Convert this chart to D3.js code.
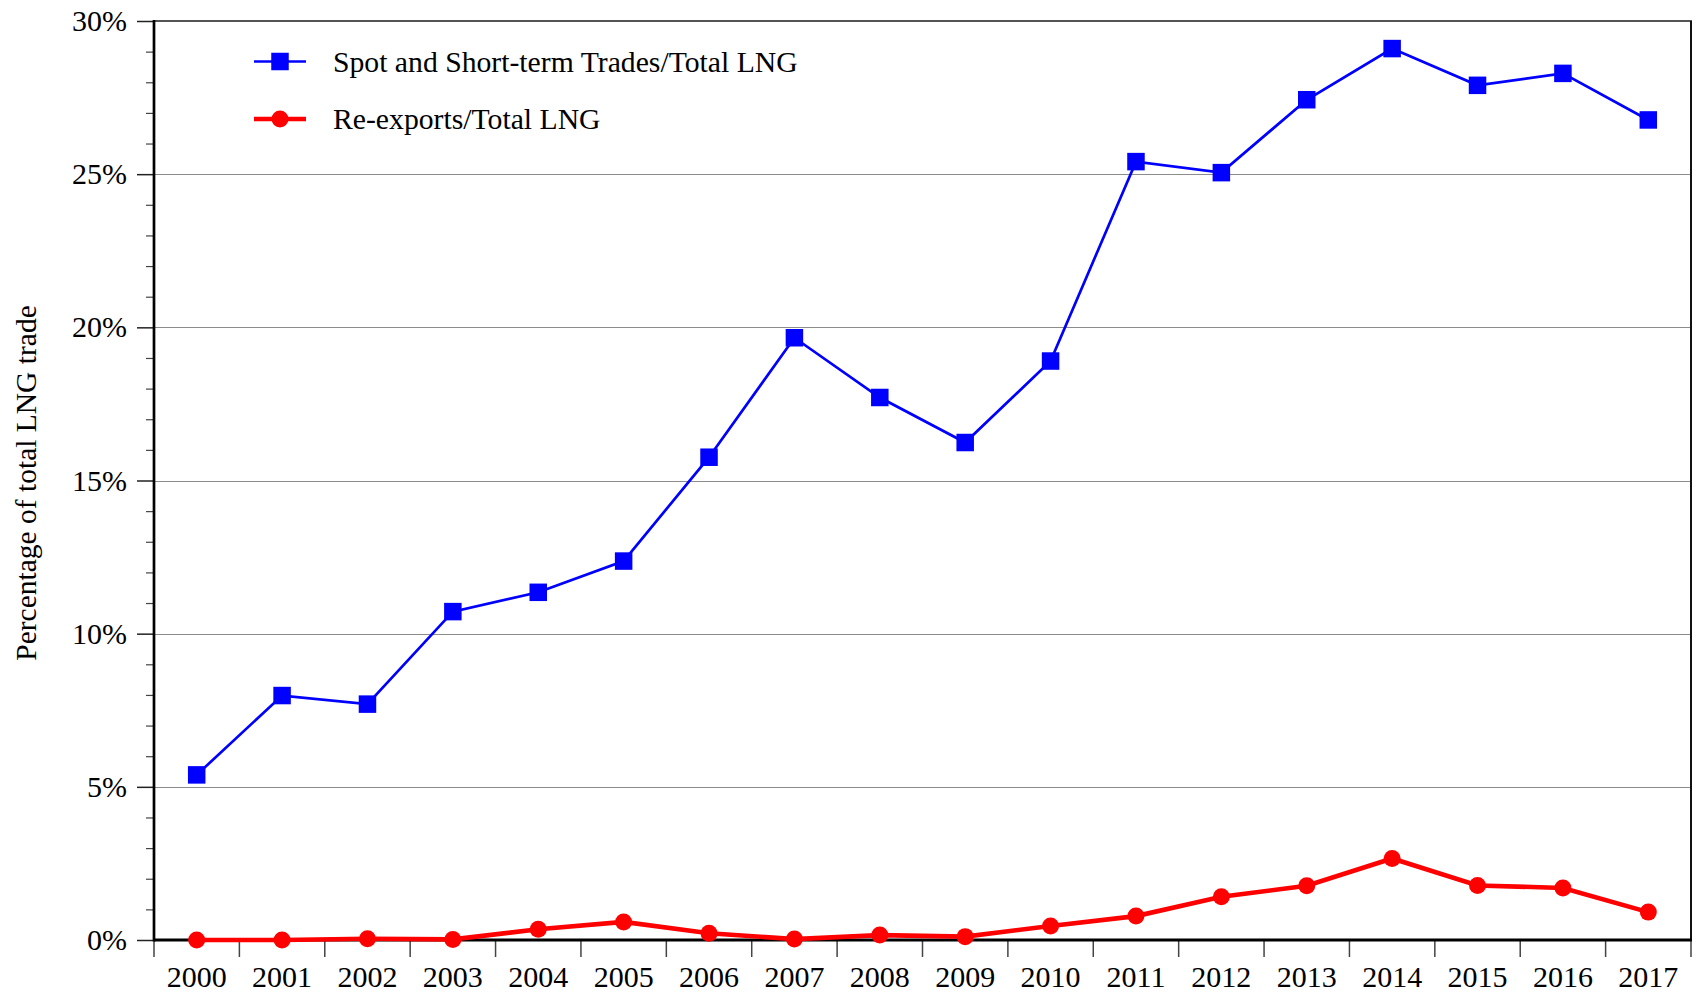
<!DOCTYPE html>
<html>
<head>
<meta charset="utf-8">
<script src="https://cdn.jsdelivr.net/npm/d3@7"></script>
<style>
  html, body { margin: 0; padding: 0; background: #fff; }
  svg { display: block; font-family: "Liberation Serif", "Times New Roman", serif; }
</style>
</head>
<body>
<svg id="chart" width="1696" height="996"></svg>
<script>
const years = ["2000","2001","2002","2003","2004","2005","2006","2007","2008","2009","2010","2011","2012","2013","2014","2015","2016","2017"];
const spotShortTerm = [5.39, 7.98, 7.70, 10.72, 11.35, 12.37, 15.76, 19.66, 17.71, 16.24, 18.90, 25.41, 25.05, 27.43, 29.10, 27.90, 28.29, 26.77];
const reExports = [0.0, 0.0, 0.04, 0.02, 0.35, 0.59, 0.22, 0.03, 0.16, 0.11, 0.46, 0.78, 1.41, 1.77, 2.66, 1.78, 1.70, 0.91];
const yTicks = [0, 5, 10, 15, 20, 25, 30];
const yMinorTicks = [1,2,3,4,6,7,8,9,11,12,13,14,16,17,18,19,21,22,23,24,26,27,28,29];
const seriesNames = ["Spot and Short-term Trades/Total LNG", "Re-exports/Total LNG"];
const yAxisTitle = "Percentage of total LNG trade";

const svg = d3.select("#chart");
const L = 154, R = 1691, T = 21, B = 940;

const x = d3.scaleBand().domain(years).range([L, R]).padding(0);
const y = d3.scaleLinear().domain([0, 30]).range([B, T]);
const cx = d => x(d) + x.bandwidth() / 2;

// gridlines
svg.append("g").selectAll("line").data(yTicks.filter(v => v > 0 && v < 30)).join("line")
  .attr("x1", L).attr("x2", R)
  .attr("y1", d => Math.round(y(d)) + 0.5).attr("y2", d => Math.round(y(d)) + 0.5)
  .attr("stroke", "#8c8c8c").attr("stroke-width", 1.2);

// top and right borders
svg.append("line").attr("x1", L).attr("x2", R + 1).attr("y1", y(30)).attr("y2", y(30))
  .attr("stroke", "#555").attr("stroke-width", 2.2);
svg.append("line").attr("x1", R).attr("x2", R).attr("y1", y(30)).attr("y2", y(0))
  .attr("stroke", "#111").attr("stroke-width", 2);

// y minor ticks
const yMinor = svg.append("g").attr("transform", `translate(${L},0)`)
  .call(d3.axisLeft(y).tickValues(yMinorTicks).tickSize(8).tickFormat(""));
yMinor.select(".domain").remove();
yMinor.selectAll(".tick line").attr("stroke", "#444").attr("stroke-width", 1.2);

// y major axis
const yAx = svg.append("g").attr("transform", `translate(${L},0)`)
  .call(d3.axisLeft(y).tickValues(yTicks).tickSize(17).tickPadding(10).tickFormat(d => d + "%"));
yAx.select(".domain").remove();
yAx.selectAll(".tick line").attr("stroke", "#222").attr("stroke-width", 1.5);
yAx.selectAll(".tick text").attr("font-size", 30).attr("fill", "#000")
  .style("font-family", '"Liberation Serif", "Times New Roman", serif');

// x tick marks at band boundaries
const edges = years.map(d => x(d)).concat([x.range()[1]]);
svg.append("g").selectAll("line").data(edges).join("line")
  .attr("x1", d => d).attr("x2", d => d)
  .attr("y1", B).attr("y2", B + 17)
  .attr("stroke", "#444").attr("stroke-width", 1.5);

// x labels
const xAx = svg.append("g").attr("transform", `translate(0,${B})`)
  .call(d3.axisBottom(x).tickSize(0).tickPadding(26));
xAx.select(".domain").remove();
xAx.selectAll(".tick text").attr("font-size", 30).attr("fill", "#000")
  .style("font-family", '"Liberation Serif", "Times New Roman", serif');

// left and bottom axis lines
svg.append("line").attr("x1", L).attr("x2", L).attr("y1", T - 1).attr("y2", B + 1.5)
  .attr("stroke", "#000").attr("stroke-width", 2.7);
svg.append("line").attr("x1", L).attr("x2", R + 1).attr("y1", B).attr("y2", B)
  .attr("stroke", "#000").attr("stroke-width", 3);

// y axis title
svg.append("text")
  .attr("transform", `translate(36,483) rotate(-90)`)
  .attr("text-anchor", "middle")
  .attr("font-size", 29.5)
  .text(yAxisTitle);

// series: blue
const lineGen = d3.line().x((d, i) => cx(years[i])).y(d => y(d));
svg.append("path").datum(spotShortTerm)
  .attr("d", lineGen).attr("fill", "none").attr("stroke", "#0000ff").attr("stroke-width", 2.7);
const sq = 17.5;
svg.append("g").selectAll("rect").data(spotShortTerm).join("rect")
  .attr("x", (d, i) => cx(years[i]) - sq / 2).attr("y", d => y(d) - sq / 2)
  .attr("width", sq).attr("height", sq).attr("fill", "#0000ff");

// series: red
svg.append("path").datum(reExports)
  .attr("d", lineGen).attr("fill", "none").attr("stroke", "#ff0000").attr("stroke-width", 4.6);
svg.append("g").selectAll("circle").data(reExports).join("circle")
  .attr("cx", (d, i) => cx(years[i])).attr("cy", d => y(d))
  .attr("r", 8.5).attr("fill", "#ff0000");

// legend
const lg = svg.append("g");
const legY = [61.5, 119];
const legX1 = 254, legX2 = 306, legC = 280;
lg.append("line").attr("x1", legX1).attr("x2", legX2).attr("y1", legY[0]).attr("y2", legY[0])
  .attr("stroke", "#0000ff").attr("stroke-width", 2.7);
lg.append("rect").attr("x", legC - sq / 2).attr("y", legY[0] - sq / 2).attr("width", sq).attr("height", sq).attr("fill", "#0000ff");
lg.append("line").attr("x1", legX1).attr("x2", legX2).attr("y1", legY[1]).attr("y2", legY[1])
  .attr("stroke", "#ff0000").attr("stroke-width", 4.6);
lg.append("circle").attr("cx", legC).attr("cy", legY[1]).attr("r", 8.5).attr("fill", "#ff0000");
lg.selectAll("text").data(seriesNames).join("text")
  .attr("x", 333).attr("y", (d, i) => legY[i]).attr("dy", "0.35em")
  .attr("font-size", 29.7).attr("fill", "#000")
  .text(d => d);
</script>
</body>
</html>
